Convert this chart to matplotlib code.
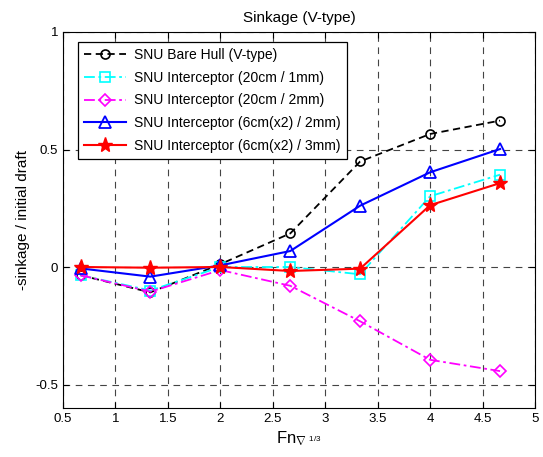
import matplotlib
matplotlib.use("Agg")
import matplotlib.pyplot as plt

plt.rcParams['font.family'] = ['Liberation Sans', 'DejaVu Sans']
plt.rcParams['mathtext.fontset'] = 'custom'
plt.rcParams['mathtext.rm'] = 'Liberation Sans'
plt.rcParams['mathtext.it'] = 'Liberation Sans'

x = [0.667, 1.333, 2.0, 2.667, 3.333, 4.0, 4.667]
bare_hull = [-0.035, -0.108, 0.012, 0.143, 0.449, 0.566, 0.623]
int_20cm_1mm = [-0.035, -0.100, 0.000, 0.000, -0.031, 0.301, 0.393]
int_20cm_2mm = [-0.035, -0.105, -0.013, -0.080, -0.231, -0.395, -0.443]
int_6cm_2mm = [-0.006, -0.041, 0.007, 0.068, 0.261, 0.403, 0.502]
int_6cm_3mm = [0.000, -0.003, 0.000, -0.017, -0.007, 0.263, 0.357]

labels = ['SNU Bare Hull (V-type)',
          'SNU Interceptor (20cm / 1mm)',
          'SNU Interceptor (20cm / 2mm)',
          'SNU Interceptor (6cm(x2) / 2mm)',
          'SNU Interceptor (6cm(x2) / 3mm)']
xticks = [0.5, 1, 1.5, 2, 2.5, 3, 3.5, 4, 4.5, 5]
yticks = [-0.5, 0, 0.5, 1]

fig = plt.figure(figsize=(5.43, 4.57), dpi=100)
ax = fig.add_axes([63/543, 1-408/457, (535-63)/543, (408-32)/457])

ax.plot(x, bare_hull, color='black', linestyle=(0, (4, 2.5)), marker='o', mfc='none', ms=6.5, mew=1.2, lw=1.3, label=labels[0])
ax.plot(x, int_20cm_1mm, color='cyan', linestyle=(0, (6, 2, 1.5, 2)), marker='s', mfc='none', ms=6.5, mew=1.2, lw=1.3, label=labels[1])
ax.plot(x, int_20cm_2mm, color='magenta', linestyle=(0, (6, 2, 1.5, 2)), marker='D', mfc='none', ms=6, mew=1.2, lw=1.3, label=labels[2])
ax.plot(x, int_6cm_2mm, color='blue', linestyle='-', marker='^', mfc='none', ms=8.5, mew=1.3, lw=1.5, label=labels[3])
ax.plot(x, int_6cm_3mm, color='red', linestyle='-', marker='*', mfc='red', ms=11, mew=1.0, lw=1.5, label=labels[4])

ax.set_xlim(0.5, 5)
ax.set_ylim(-0.6, 1)
ax.set_xticks(xticks)
ax.set_xticklabels(['0.5', '1', '1.5', '2', '2.5', '3', '3.5', '4', '4.5', '5'])
ax.set_yticks(yticks)
ax.set_yticklabels(['-0.5', '0', '0.5', '1'])
ax.tick_params(direction='in', top=True, right=True, labelsize=9.5, length=4, width=0.8)
ax.grid(True, color='#444444', linestyle=(0, (6, 5)), linewidth=0.8)
for s in ax.spines.values():
    s.set_linewidth(0.8)

ax.set_title('Sinkage (V-type)', fontsize=11, pad=7)
ax.set_xlabel(r'Fn$_{\nabla\ ^{1/3}}$', fontsize=12, labelpad=3)
ax.set_ylabel('-sinkage / initial draft', fontsize=11)

leg = ax.legend(loc='upper left', fontsize=10, frameon=True, fancybox=False, edgecolor='black',
                framealpha=1, handlelength=3.0, handletextpad=0.6, borderpad=0.45,
                labelspacing=0.62, borderaxespad=0, bbox_to_anchor=(15/472, 1 - 10/376))
leg.get_frame().set_linewidth(0.9)

fig.savefig('out.png', dpi=100)
